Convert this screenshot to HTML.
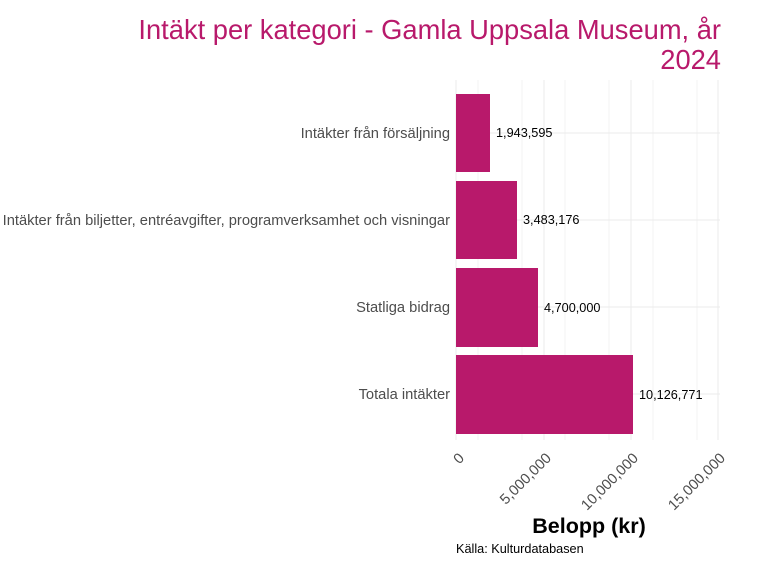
<!DOCTYPE html>
<html><head><meta charset="utf-8"><style>body{margin:0;background:#fff}</style></head><body>
<svg width="768" height="576" xmlns="http://www.w3.org/2000/svg" font-family="Liberation Sans, sans-serif">
<rect width="768" height="576" fill="#fff"/>
<g stroke="#ebebeb" stroke-width="1">
<line x1="478" y1="80" x2="478" y2="440" stroke-width="0.6"/><line x1="522" y1="80" x2="522" y2="440" stroke-width="0.6"/><line x1="565" y1="80" x2="565" y2="440" stroke-width="0.6"/><line x1="609" y1="80" x2="609" y2="440" stroke-width="0.6"/><line x1="653" y1="80" x2="653" y2="440" stroke-width="0.6"/><line x1="697" y1="80" x2="697" y2="440" stroke-width="0.6"/>
<line x1="456" y1="80" x2="456" y2="440"/><line x1="544" y1="80" x2="544" y2="440"/><line x1="631" y1="80" x2="631" y2="440"/><line x1="718" y1="80" x2="718" y2="440"/>
<line x1="456" y1="133" x2="720" y2="133"/><line x1="456" y1="220" x2="720" y2="220"/><line x1="456" y1="307" x2="720" y2="307"/><line x1="456" y1="394" x2="720" y2="394"/>
</g>
<g fill="#b8196b">
<rect x="456" y="94" width="34" height="78"/>
<rect x="456" y="181" width="61" height="78"/>
<rect x="456" y="268" width="82" height="79"/>
<rect x="456" y="355" width="177" height="79"/>
</g>
<g font-size="12.7" fill="#000">
<text x="496" y="137">1,943,595</text>
<text x="523" y="224">3,483,176</text>
<text x="544" y="312">4,700,000</text>
<text x="639" y="399">10,126,771</text>
</g>
<g font-size="14.7" fill="#4d4d4d" text-anchor="end">
<text x="450" y="138">Intäkter från försäljning</text>
<text x="450" y="225">Intäkter från biljetter, entréavgifter, programverksamhet och visningar</text>
<text x="450" y="312">Statliga bidrag</text>
<text x="450" y="399">Totala intäkter</text>
</g>
<g font-size="14.7" fill="#4d4d4d" text-anchor="end">
<text transform="translate(465,459) rotate(-45)">0</text>
<text transform="translate(552,459) rotate(-45)">5,000,000</text>
<text transform="translate(639,459) rotate(-45)">10,000,000</text>
<text transform="translate(726,459) rotate(-45)">15,000,000</text>
</g>
<text x="589" y="533" font-size="21.5" font-weight="bold" text-anchor="middle" fill="#000">Belopp (kr)</text>
<text x="456" y="553" font-size="12.7" fill="#000">Källa: Kulturdatabasen</text>
<g font-size="27.3" fill="#b8196b" text-anchor="end">
<text x="721" y="39">Intäkt per kategori - Gamla Uppsala Museum, år</text>
<text x="721" y="69">2024</text>
</g>
</svg>
</body></html>
